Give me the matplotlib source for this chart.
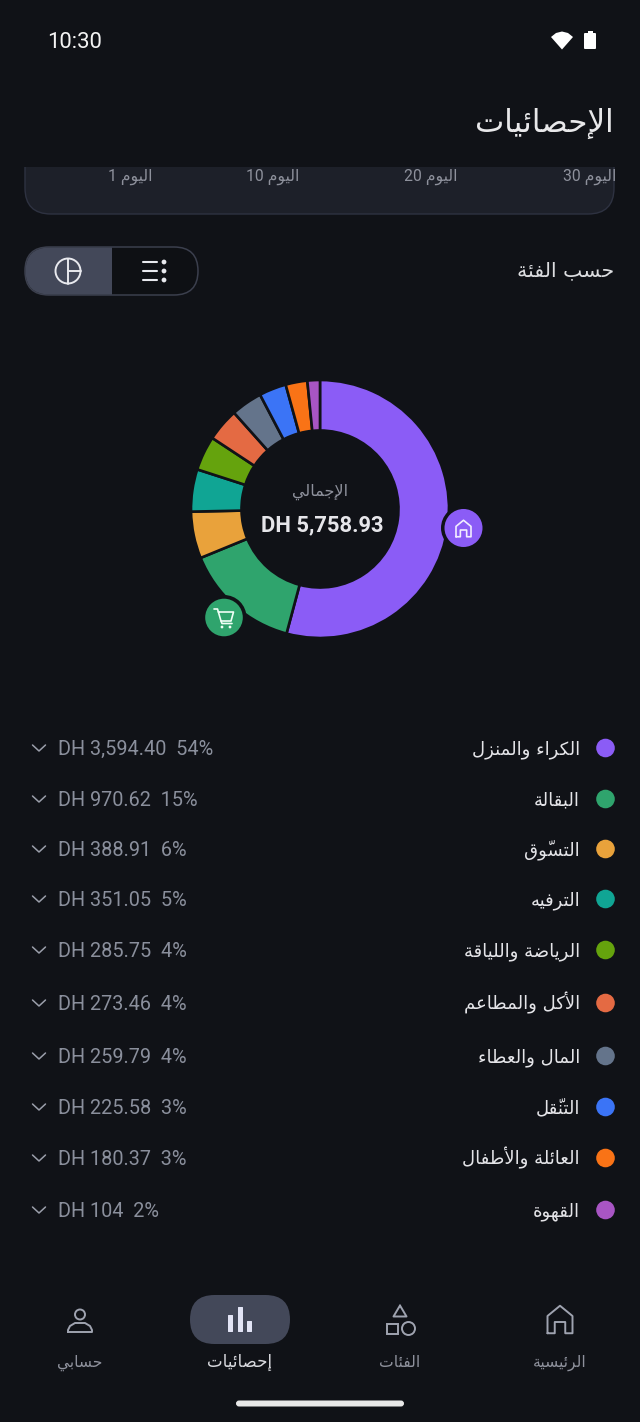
"""
Statistics screen, donut by category
"""
import matplotlib
matplotlib.use("Agg")
import matplotlib.pyplot as plt
from matplotlib.patches import FancyBboxPatch, Circle, Rectangle, Polygon

# ----------------------
# Data
# ----------------------
categories = ["الكراء والمنزل", "البقالة", "التسوّق", "الترفيه", "الرياضة واللياقة",
              "الأكل والمطاعم", "المال والعطاء", "التنقّل", "العائلة والأطفال", "القهوة"]
amounts = [3594.40, 970.62, 388.91, 351.05, 285.75, 273.46, 259.79, 225.58, 180.37, 104]
percents = [54, 15, 6, 5, 4, 4, 4, 3, 3, 2]
colors = ["#8b5cf6", "#2fa46d", "#e9a23b", "#10a594", "#65a30d",
          "#e46a43", "#64748b", "#3b74f6", "#f97316", "#a855c4"]
row_y = [748, 799, 849, 899, 950, 1003, 1056, 1107, 1158, 1210]
total_label = "DH 5,758.93"
days = [1, 10, 20, 30]
day_right = [152, 299, 458, 616]
nav_labels = ["الرئيسية", "الفئات", "إحصائيات", "حسابي"]
nav_x = [560, 400, 240, 80]
nav_colors = ["#8e919c", "#8e919c", "#d8d9de", "#8e919c"]
nav_sizes = [11.2, 11.2, 12, 11.2]

BG = "#101217"
SEL = "#434859"
LATIN = ["Roboto", "DejaVu Sans"]
ARABIC = ["DejaVu Sans"]

# isolated, final, initial, medial
FORMS = {
    "ء": (0xFE80,), "أ": (0xFE83, 0xFE84), "إ": (0xFE87, 0xFE88), "ا": (0xFE8D, 0xFE8E),
    "ة": (0xFE93, 0xFE94), "ر": (0xFEAD, 0xFEAE), "ز": (0xFEAF, 0xFEB0), "و": (0xFEED, 0xFEEE),
    "ئ": (0xFE89, 0xFE8A, 0xFE8B, 0xFE8C), "ب": (0xFE8F, 0xFE90, 0xFE91, 0xFE92),
    "ت": (0xFE95, 0xFE96, 0xFE97, 0xFE98), "ج": (0xFE9D, 0xFE9E, 0xFE9F, 0xFEA0),
    "ح": (0xFEA1, 0xFEA2, 0xFEA3, 0xFEA4), "س": (0xFEB1, 0xFEB2, 0xFEB3, 0xFEB4),
    "ص": (0xFEB9, 0xFEBA, 0xFEBB, 0xFEBC), "ض": (0xFEBD, 0xFEBE, 0xFEBF, 0xFEC0),
    "ط": (0xFEC1, 0xFEC2, 0xFEC3, 0xFEC4), "ع": (0xFEC9, 0xFECA, 0xFECB, 0xFECC),
    "ف": (0xFED1, 0xFED2, 0xFED3, 0xFED4), "ق": (0xFED5, 0xFED6, 0xFED7, 0xFED8),
    "ك": (0xFED9, 0xFEDA, 0xFEDB, 0xFEDC), "ل": (0xFEDD, 0xFEDE, 0xFEDF, 0xFEE0),
    "م": (0xFEE1, 0xFEE2, 0xFEE3, 0xFEE4), "ن": (0xFEE5, 0xFEE6, 0xFEE7, 0xFEE8),
    "ه": (0xFEE9, 0xFEEA, 0xFEEB, 0xFEEC), "ي": (0xFEF1, 0xFEF2, 0xFEF3, 0xFEF4),
}
LAM_ALEF = {"ا": (0xFEFB, 0xFEFC), "أ": (0xFEF7, 0xFEF8), "إ": (0xFEF9, 0xFEFA)}
MARK = "\u0651"


def ar(text):
    # matplotlib has no shaping or bidi, so pick the joined forms and reverse
    units = []
    i = 0
    while i < len(text):
        c = text[i]
        if c == "ل" and i + 1 < len(text) and text[i + 1] in LAM_ALEF:
            units.append([c + text[i + 1], ""])
            i += 2
        elif c == MARK:
            units[-1][1] += c
            i += 1
        else:
            units.append([c, ""])
            i += 1

    def joins_next(u):
        return u in FORMS and len(FORMS[u]) == 4

    out = []
    for k, (u, mark) in enumerate(units):
        prev_joins = k > 0 and joins_next(units[k - 1][0])
        next_known = k + 1 < len(units) and (units[k + 1][0] in FORMS or len(units[k + 1][0]) == 2)
        if len(u) == 2:
            glyph = chr(LAM_ALEF[u[1]][1 if prev_joins else 0])
        elif u in FORMS:
            f = FORMS[u]
            if len(f) == 1:
                glyph = chr(f[0])
            elif len(f) == 2:
                glyph = chr(f[1 if prev_joins else 0])
            elif prev_joins and next_known:
                glyph = chr(f[3])
            elif prev_joins:
                glyph = chr(f[1])
            elif next_known:
                glyph = chr(f[2])
            else:
                glyph = chr(f[0])
        else:
            glyph = u
        out.append(glyph + mark)
    return "".join(reversed(out))


def rbox(x0, y0, x1, y1, r, **kw):
    p = FancyBboxPatch((x0, y0), x1 - x0, y1 - y0, boxstyle="round,pad=0,rounding_size=%g" % r, **kw)
    ax.add_patch(p)
    return p


def icon(xs, ys, color, lw=1.3):
    ax.plot(xs, ys, color=color, lw=lw, solid_capstyle="round", solid_joinstyle="round", zorder=12)


def home_icon(cx, cy, s, color, lw):
    # s is half the width
    xs = [-1, -1, 0, 1, 1, 0.42, 0.42, -0.42, -0.42, -1]
    ys = [1.1, -0.28, -1.1, -0.28, 1.1, 1.1, 0.2, 0.2, 1.1, 1.1]
    icon([cx + s * x for x in xs], [cy + s * y for y in ys], color, lw)


fig = plt.figure(figsize=(6.4, 14.22), dpi=100, facecolor=BG)
ax = fig.add_axes([0, 0, 1, 1])
ax.set_xlim(0, 640)
ax.set_ylim(1422, 0)
ax.axis("off")

# ----------------------
# Header
# ----------------------
rbox(25, 100, 614, 214, 26, fc="#1d2029", ec="#2e3241", lw=1, zorder=1)
ax.add_patch(Rectangle((0, 0), 640, 167, fc=BG, ec="none", zorder=2))
ax.text(47, 47.5, "10:30", family=LATIN, fontsize=15.9, color="#f4f4f4", zorder=5)
ax.add_patch(Polygon([(551, 37), (556, 33), (562, 31.5), (568, 33), (573, 37), (562, 49.5)],
                     fc="white", ec="none", zorder=5))
rbox(584, 33, 596, 49, 1, fc="white", ec="none", zorder=5)
ax.add_patch(Rectangle((587.5, 30.5), 5, 3, fc="white", ec="none", zorder=5))
ax.text(614, 132, ar("الإحصائيات"), family=ARABIC, fontsize=22.3, color="#e8e8ea", ha="right", zorder=5)

for d, xr in zip(days, day_right):
    ax.text(xr, 181, "%d %s" % (d, ar("اليوم")), family=LATIN, fontsize=11.3, color="#8e919c", ha="right", zorder=5)

# ----------------------
# Toggle
# ----------------------
ax.text(614, 276.5, ar("حسب الفئة"), family=ARABIC, fontsize=14.7, color="#dcdde0", ha="right", zorder=5)
rbox(25, 247, 198, 295, 24, fc="#0e1014", ec="#3b3f4d", lw=1.1, zorder=3)
sel = rbox(25.5, 247.5, 197.5, 294.5, 24, fc=SEL, ec="none", zorder=4)
sel.set_clip_path(Rectangle((25, 247), 87, 48, transform=ax.transData))
ax.add_patch(Circle((68, 271), 12.5, fc="none", ec="#e8e9ee", lw=1.4, zorder=6))
icon([68, 68], [258.5, 283.5], "#e8e9ee", 1.4)
icon([68, 80.5], [271, 271], "#e8e9ee", 1.4)
for yy in [262, 271, 280]:
    icon([143, 157], [yy, yy], "#e8e9ee", 1.5)
    ax.add_patch(Circle((164, yy), 2.4, fc="#e8e9ee", ec="none", zorder=6))

# ----------------------
# Donut
# ----------------------
cx, cy, rad = 320, 509, 129
pie_ax = fig.add_axes([(cx - rad) / 640, 1 - (cy + rad) / 1422, 2 * rad / 640, 2 * rad / 1422])
pie_ax.pie(amounts, colors=colors, startangle=90, counterclock=False, radius=1,
           wedgeprops=dict(width=50.5 / 129, edgecolor=BG, linewidth=1.9))
pie_ax.set_xlim(-1, 1)
pie_ax.set_ylim(-1, 1)
pie_ax.set_zorder(2)
pie_ax.patch.set_alpha(0)

top = fig.add_axes([0, 0, 1, 1], sharex=ax, sharey=ax)
top.axis("off")
top.set_zorder(3)
top.patch.set_alpha(0)
ax = top

ax.text(320, 496, ar("الإجمالي"), family=ARABIC, fontsize=11.5, color="#8e919c", ha="center")
ax.text(322.5, 531.5, total_label, family=LATIN, fontsize=15.8, fontweight="bold", color="#e6e6ea", ha="center")

ax.add_patch(Circle((463.5, 528), 22.5, fc=BG, ec="none", zorder=8))
ax.add_patch(Circle((463.5, 528), 19, fc=colors[0], ec="none", zorder=9))
home_icon(463.5, 528.5, 7.5, "#f2edff", 1.2)

ax.add_patch(Circle((224, 617.5), 22.5, fc=BG, ec="none", zorder=8))
ax.add_patch(Circle((224, 617.5), 18.8, fc=colors[1], ec="none", zorder=9))
icon([214, 217.5, 221, 231, 233.5, 218.5], [609, 609, 621, 621, 612, 612], "#f0fff6", 1.2)
icon([221, 222, 232], [621, 623.5, 623.5], "#f0fff6", 1.2)
ax.add_patch(Circle((222, 627), 1.4, fc="#f0fff6", ec="none", zorder=12))
ax.add_patch(Circle((230, 627), 1.4, fc="#f0fff6", ec="none", zorder=12))

# ----------------------
# Category rows
# ----------------------
for name, amt, pct, col, y in zip(categories, amounts, percents, colors, row_y):
    ax.add_patch(Circle((605.5, y), 9.3, fc=col, ec="none"))
    ax.text(580, y + 6, ar(name), family=ARABIC, fontsize=13, color="#e4e4e8", ha="right")
    amt_text = format(amt, ",.2f").removesuffix(".00")
    ax.text(58, y + 7.2, "DH %s  %d%%" % (amt_text, pct), family=LATIN, fontsize=14.3, color="#8a8f9c")
    icon([32.5, 39, 45.5], [y - 3, y + 3, y - 3], "#9a9eaa", 1.1)

# ----------------------
# Bottom navigation
# ----------------------
NAV = "#9fa3b0"
rbox(190, 1295, 290, 1344, 24.5, fc=SEL, ec="none")
for x0, ytop in zip([228, 238, 247], [1315, 1307, 1321]):
    rbox(x0, ytop, x0 + 5, 1332, 0.5, fc="#e2e4f5", ec="none")

home_icon(560, 1319.5, 12.5, NAV, 1.4)

icon([400, 393.5, 406.5, 400], [1305.5, 1316.5, 1316.5, 1305.5], NAV, 1.4)
ax.add_patch(Rectangle((387, 1323.5), 10.5, 10, fc="none", ec=NAV, lw=1.4))
ax.add_patch(Circle((408.5, 1328.5), 6.5, fc="none", ec=NAV, lw=1.4))

ax.add_patch(Circle((80, 1314.5), 5, fc="none", ec=NAV, lw=1.4))
icon([68, 92, 92, 90, 85, 75, 70, 68, 68],
     [1332, 1332, 1330, 1326, 1323, 1323, 1326, 1330, 1332], NAV, 1.4)

for label, x, c, fs in zip(nav_labels, nav_x, nav_colors, nav_sizes):
    ax.text(x, 1367, ar(label), family=ARABIC, fontsize=fs, color=c, ha="center")

rbox(236, 1400.5, 404, 1406.5, 3, fc="#e8e8e8", ec="none")

plt.savefig("out.png", dpi=100, facecolor=BG)
